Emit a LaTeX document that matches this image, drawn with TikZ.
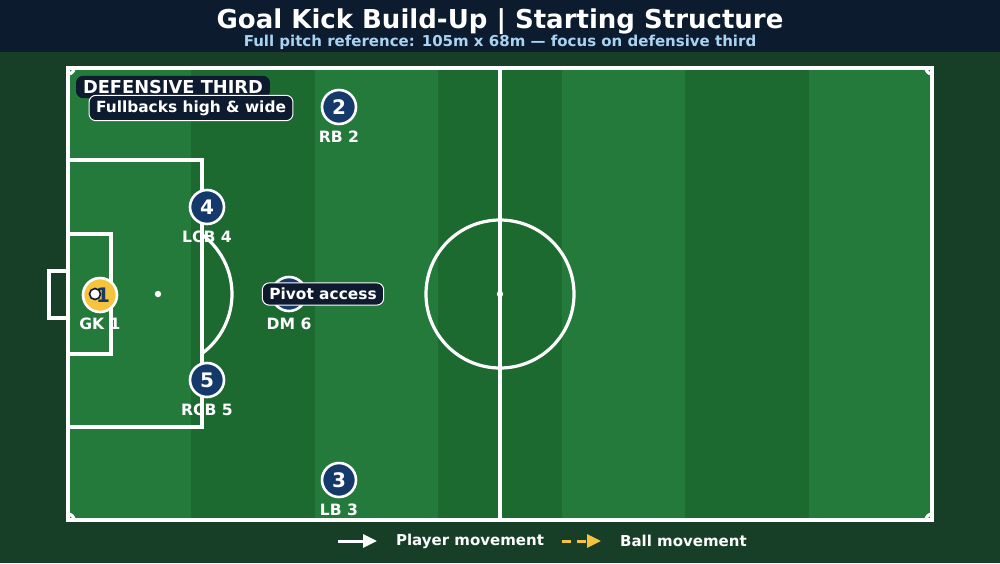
\documentclass[tikz,border=0pt]{standalone}
\usepackage{fontspec}
\setmainfont{DejaVu Sans}
\usetikzlibrary{arrows.meta}

\definecolor{headbg}{HTML}{0C1B2E}
\definecolor{pagebg}{HTML}{173F28}
\definecolor{stripelight}{HTML}{237A3B}
\definecolor{stripedark}{HTML}{1D6A31}
\definecolor{playernavy}{HTML}{16396C}
\definecolor{keeper}{HTML}{F5C33E}
\definecolor{boxnavy}{HTML}{0E1A2E}
\definecolor{subblue}{HTML}{A9D3F2}

\tikzset{
  pitchline/.style={white,line width=1.6pt},
  player/.style={circle,fill=playernavy,draw=white,line width=1.3pt,minimum size=17pt,inner sep=0pt,
    text=white,font=\bfseries\fontsize{10}{10}\selectfont},
  tag/.style={text=white,font=\bfseries\fontsize{7.8}{7.8}\selectfont,inner sep=1pt},
  callout/.style={fill=boxnavy,rounded corners=3.5pt,text=white,inner xsep=3.5pt,inner ysep=2.6pt,
    font=\bfseries\fontsize{7.7}{7.7}\selectfont},
}

\begin{document}
\begin{tikzpicture}[x=0.5pt,y=-0.5pt]
			\useasboundingbox (0,0) rectangle (1000,563);
			\fill[pagebg] (0,0) rectangle (1000,563);
			\fill[headbg] (0,0) rectangle (1000,52);

			% title
			\node[text=white,font=\bfseries\fontsize{13}{13}\selectfont] (title) at (500,22) {Goal Kick Build-Up | Starting Structure};
			\node[text=subblue,font=\bfseries\fontsize{7.5}{7.5}\selectfont] (subtitle) at (500,42) {Full pitch reference: 105m x 68m — focus on defensive third};

			% stripes
			\foreach \i in {0,...,6} {
				\pgfmathsetmacro{\xa}{68+\i*864/7}
				\pgfmathsetmacro{\xb}{68+(\i+1)*864/7}
				\ifodd\i
					\fill[stripedark] (\xa,68) rectangle (\xb,520);
				\else
					\fill[stripelight] (\xa,68) rectangle (\xb,520);
				\fi
			}

			% markings
			\draw[pitchline] (68,68) rectangle (932,520);
			\draw[pitchline] (500,68) -- (500,520);
			\draw[pitchline] (500,294) circle[radius=74];
			\fill[white] (500,294) circle[radius=3.2];
			\draw[pitchline] (68,160) rectangle (202,427);
			\draw[pitchline] (68,234) rectangle (111,354);
			\draw[pitchline] (68,271) -- (49,271) -- (49,318) -- (68,318);
			\fill[white] (158,294) circle[radius=3.2];
			\draw[pitchline] (158,294) ++(-53.5:74) arc[start angle=-53.5,end angle=53.5,radius=74];

			% corners
			\draw[pitchline] (74,68) arc[start angle=0,end angle=90,radius=6];
			\draw[pitchline] (926,68) arc[start angle=180,end angle=90,radius=6];
			\draw[pitchline] (74,520) arc[start angle=0,end angle=-90,radius=6];
			\draw[pitchline] (926,520) arc[start angle=180,end angle=270,radius=6];

			% players
			\node[player,fill=keeper,text=playernavy] (gk) at (100,295) {\hspace{3pt}1};
			\node[circle,fill=white,draw=boxnavy,line width=0.8pt,minimum size=5.5pt,inner sep=0pt] (ball) at (95,294) {};
			\node[tag] (gktag) at (100,324) {GK 1};

			\node[player] (lcb) at (207,207) {4};
			\node[tag] (lcbtag) at (207,237) {LCB 4};
			\node[player] (rcb) at (207,380) {5};
			\node[tag] (rcbtag) at (207,410) {RCB 5};
			\node[player] (rb) at (339,107) {2};
			\node[tag] (rbtag) at (339,137) {RB 2};
			\node[player] (lb) at (339,480) {3};
			\node[tag] (lbtag) at (339,510) {LB 3};
			\node[player] (dm) at (289,294) {6};
			\node[tag] (dmtag) at (289,324) {DM 6};

			% callouts
			\node[callout,draw=white,line width=0.5pt] (pivot) at (323,294) {Pivot access};
			\node[callout,font=\bfseries\fontsize{8.9}{8.9}\selectfont,inner ysep=2.2pt] (zone) at (173,87) {DEFENSIVE THIRD};
			\node[callout,draw=white,line width=0.5pt] (zonenote) at (191,108) {Fullbacks high \& wide};

			% legend
			\coordinate (pa) at (338,541);
			\coordinate (pb) at (377,541);
			\coordinate (ba) at (562,541);
			\coordinate (bb) at (601,541);
			\draw[white,line width=1.5pt,-{Triangle[length=7pt,width=6.5pt]}] (pa) -- (pb);
			\node[text=white,font=\bfseries\fontsize{7.5}{7.5}\selectfont,anchor=west] (plegend) at (389,541) {Player movement};
			\draw[keeper,line width=1.5pt,dash pattern=on 4.5pt off 3pt,-{Triangle[length=7pt,width=6.5pt]}] (ba) -- (bb);
			\node[text=white,font=\bfseries\fontsize{7.5}{7.5}\selectfont,anchor=west] (blegend) at (613,541) {Ball movement};
\end{tikzpicture}
\end{document}
